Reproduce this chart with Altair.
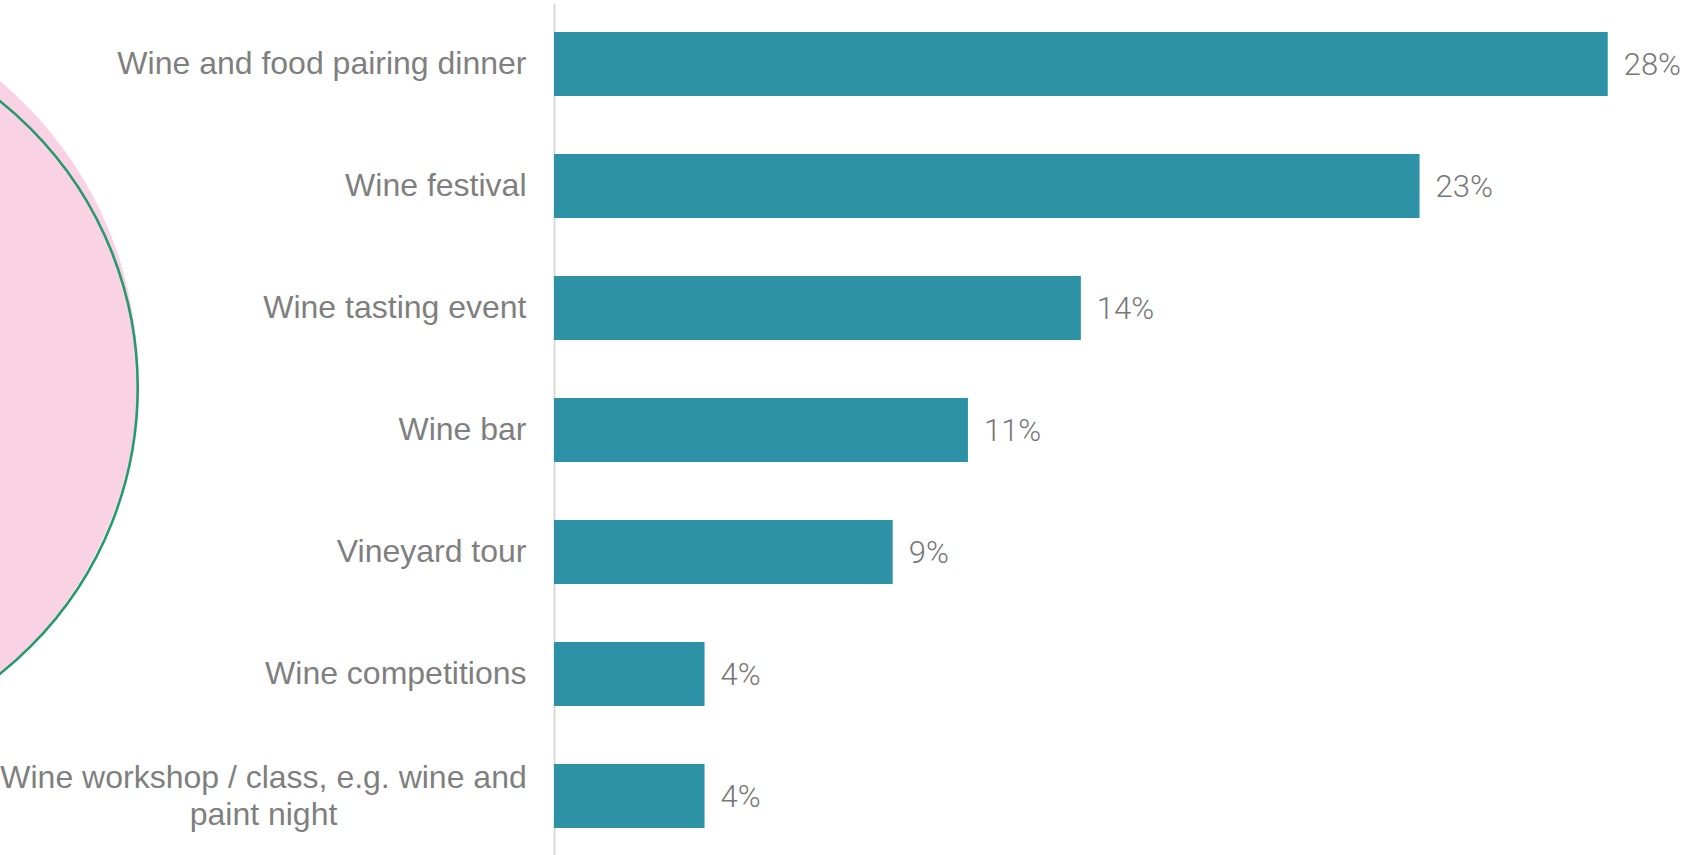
import altair as alt
import pandas as pd

categories = [
    "Wine and food pairing dinner",
    "Wine festival",
    "Wine tasting event",
    "Wine bar",
    "Vineyard tour",
    "Wine competitions",
    "Wine workshop / class, e.g. wine and paint night",
]
values = [28, 23, 14, 11, 9, 4, 4]
value_labels = ["28%", "23%", "14%", "11%", "9%", "4%", "4%"]

# decorative shapes on the left (x in % units of the x scale)
deco_x = [-21.35, -20.8]
deco_kind = ["fill", "outline"]

df = pd.DataFrame({"category": categories, "value": values, "label": value_labels})
deco = pd.DataFrame({"x": deco_x, "kind": deco_kind})

TEXT = "#7f7f7f"
BAR = "#2e92a6"
LONG = "Wine workshop / class, e.g. wine and paint night"
test = "datum.value == '" + LONG + "'"
wrap = test + " ? ['Wine workshop / class, e.g. wine and', 'paint night'] : datum.value"

xscale = alt.Scale(domain=[0, 30], nice=False, zero=True)
yenc = alt.Y(
    "category:N",
    sort=categories,
    scale=alt.Scale(paddingInner=0.475, paddingOuter=0.2375),
    axis=alt.Axis(
        title=None, ticks=False, grid=False, domain=True,
        domainColor="#d9d9d9", domainWidth=2,
        labelFontSize=32, labelColor=TEXT, labelFont="Liberation Sans",
        labelLimit=700, labelExpr=wrap, labelLineHeight=36.5,
        labelAlign={"condition": {"test": test, "value": "center"}, "value": "right"},
        labelPadding={"condition": {"test": test, "value": 291}, "value": 28},
        labelOffset={"condition": {"test": test, "value": -18}, "value": 0},
    ),
)

fill_circle = alt.Chart(deco).transform_filter("datum.kind == 'fill'").mark_point(
    shape="circle", filled=True, color="#f9d3e4", opacity=1, size=775 ** 2
).encode(x=alt.X("x:Q", scale=xscale, axis=None), y=alt.value(374.5))

outline_circle = alt.Chart(deco).transform_filter("datum.kind == 'outline'").mark_point(
    shape="circle", filled=False, stroke="#26996f", strokeWidth=2.6, opacity=1, size=733 ** 2
).encode(x=alt.X("x:Q", scale=xscale, axis=None), y=alt.value(384.5))

bars = alt.Chart(df).mark_bar(color=BAR).encode(
    x=alt.X("value:Q", scale=xscale, axis=None),
    y=yenc,
)

texts = alt.Chart(df).mark_text(
    align="left", baseline="middle", dx=16, dy=2, fontSize=31, color="#777777",
    font="Roboto", fontWeight=300,
).encode(
    x=alt.X("value:Q", scale=xscale, axis=None),
    y=alt.Y("category:N", sort=categories),
    text="label:N",
)

chart = alt.layer(fill_circle, outline_circle, bars, texts).properties(
    width=1129, height=854,
    autosize=alt.AutoSizeParams(type="none"),
    padding={"left": 554, "top": 3, "right": 3, "bottom": 0},
    background="white",
).configure_view(stroke=None)

chart.save("out.html", embed_options={"renderer": "svg", "actions": False})
